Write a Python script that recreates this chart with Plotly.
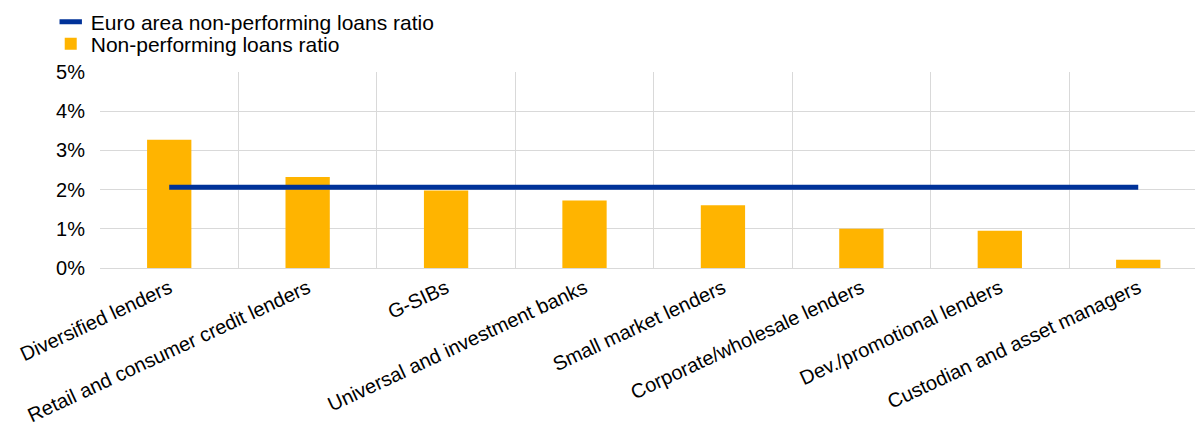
import plotly.graph_objects as go

categories = [
    "Diversified lenders",
    "Retail and consumer credit lenders",
    "G-SIBs",
    "Universal and investment banks",
    "Small market lenders",
    "Corporate/wholesale lenders",
    "Dev./promotional lenders",
    "Custodian and asset managers",
]
npl_ratio = [3.27, 2.32, 1.98, 1.72, 1.60, 1.00, 0.95, 0.21]
euro_area_npl = [2.06] * len(categories)

BLUE = "#003299"
YELLOW = "#FFB400"
GRID = "#d9d9d9"
FONT = "Liberation Sans, Arial, sans-serif"

fig = go.Figure()
fig.add_trace(go.Bar(
    x=categories, y=npl_ratio, name="Non-performing loans ratio",
    marker=dict(color=YELLOW, line=dict(width=0)), width=0.32,
    showlegend=True, legend="legend2",
))
fig.add_trace(go.Scatter(
    x=categories, y=euro_area_npl, mode="lines",
    line=dict(color=BLUE, width=5), showlegend=False,
))
# legend entry for the line
fig.add_trace(go.Scatter(
    x=[None], y=[None], mode="markers", name="Euro area non-performing loans ratio",
    marker=dict(symbol="line-ew", size=16, color=BLUE, line=dict(color=BLUE, width=5)),
    legend="legend",
))

legend_common = dict(
    xref="paper", yref="container", xanchor="left", yanchor="middle",
    font=dict(size=21, color="#000000"), bgcolor="rgba(0,0,0,0)",
    itemwidth=30, borderwidth=0,
)

fig.update_layout(
    width=1195, height=425,
    margin=dict(l=100, r=0, t=72, b=157, autoexpand=False),
    paper_bgcolor="white", plot_bgcolor="white",
    font=dict(family=FONT, size=20, color="#000000"),
    legend=dict(x=-0.045, y=1 - 22 / 425, **legend_common),
    legend2=dict(x=-0.045, y=1 - 44 / 425, **legend_common),
    xaxis=dict(
        type="category", range=[-0.5, 7.41], automargin=False,
        tickson="boundaries", showgrid=True, gridcolor=GRID, gridwidth=1,
        tickangle=-25, ticks="", showline=False,
        tickfont=dict(size=20, color="#000000"),
        ticklabelstandoff=4,
    ),
    yaxis=dict(
        range=[0, 5], dtick=1, ticksuffix="%", automargin=False,
        showgrid=True, gridcolor=GRID, gridwidth=1,
        zeroline=True, zerolinecolor=GRID, zerolinewidth=1,
        showline=False, ticks="", ticklabelstandoff=14,
        tickfont=dict(size=20, color="#000000"),
    ),
)

fig.write_html("out.html")
